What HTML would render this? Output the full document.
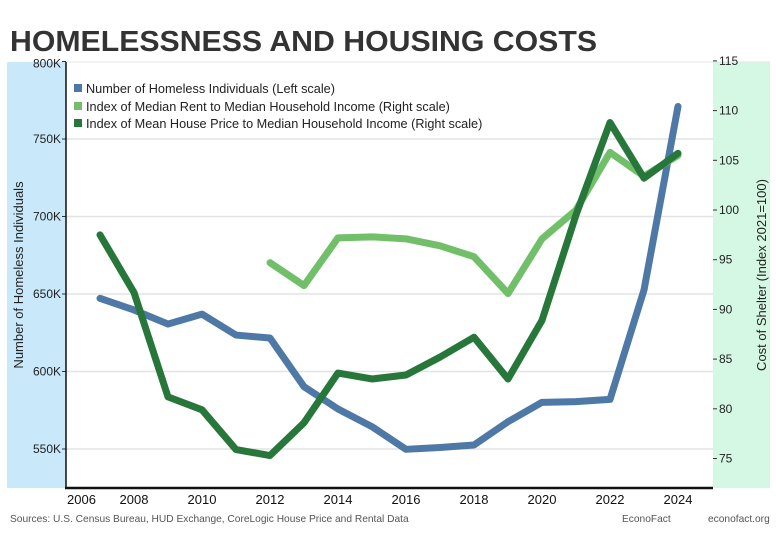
<!DOCTYPE html>
<html><head><meta charset="utf-8"><style>
html,body{margin:0;padding:0;background:#fff;}
svg{display:block;font-family:"Liberation Sans",Arial,sans-serif;}
</style></head><body>
<svg id="c" width="776" height="540" viewBox="0 0 776 540">
<text x="10" y="51" font-size="29" font-weight="bold" fill="#333" textLength="587" lengthAdjust="spacingAndGlyphs">HOMELESSNESS AND HOUSING COSTS</text>
<rect x="7" y="62" width="59" height="426" fill="#c9e9fb"/>
<rect x="713" y="62" width="57" height="426" fill="#d4f8e3"/>
<line x1="66" y1="62" x2="770" y2="62" stroke="#e6e6e6"/>
<g id="grid"></g>
<g id="series"></g>
<g id="axes"></g>
<text transform="translate(23,275) rotate(-90)" text-anchor="middle" font-size="13" fill="#222">Number of Homeless Individuals</text>
<text transform="translate(766,275) rotate(-90)" text-anchor="middle" font-size="13" fill="#222">Cost of Shelter (Index 2021=100)</text>
<g font-size="12.7" fill="#222">
<rect x="74" y="84" width="8" height="8" fill="#4e79a7"/>
<text x="86" y="93">Number of Homeless Individuals (Left scale)</text>
<rect x="74" y="102" width="8" height="8" fill="#72bf6a"/>
<text x="86" y="111">Index of Median Rent to Median Household Income (Right scale)</text>
<rect x="74" y="119" width="8" height="8" fill="#27773b"/>
<text x="86" y="128">Index of Mean House Price to Median Household Income (Right scale)</text>
</g>
<text x="10" y="522" font-size="10.2" fill="#555">Sources: U.S. Census Bureau, HUD Exchange, CoreLogic House Price and Rental Data</text>
<text x="622" y="522" font-size="10.2" fill="#555">EconoFact</text>
<text x="708" y="522" font-size="10.2" fill="#555">econofact.org</text>
</svg>
<script>
const years=[2007,2008,2009,2010,2011,2012,2013,2014,2015,2016,2017,2018,2019,2020,2021,2022,2023,2024];
const homeless=[647.2,639.7,630.6,637,623.5,621.6,590.2,575.8,564.4,549.8,551,552.6,567.6,580.1,580.6,582,652.6,771];
const rentYears=[2012,2013,2014,2015,2016,2017,2018,2019,2020,2021,2022,2023,2024];
const rent=[94.7,92.4,97.2,97.3,97.1,96.4,95.3,91.6,97.1,100,105.8,103.4,105.5];
const housePrice=[97.5,91.7,81.2,79.9,75.9,75.3,78.6,83.6,83.0,83.4,85.2,87.2,83.0,88.9,99.5,108.8,103.2,105.7];
const leftTicks=[550,600,650,700,750,800];
const rightTicks=[75,80,85,90,95,100,105,110,115];
const xTicks=[2006,2008,2010,2012,2014,2016,2018,2020,2022,2024];

const NS="http://www.w3.org/2000/svg";
const X=y=>66+(y-2006)*34.0;
const YL=v=>294-(v-650)*1.55;
const YR=v=>210-(v-100)*9.94;
function mk(tag,attrs,parent){const e=document.createElementNS(NS,tag);for(const k in attrs)e.setAttribute(k,attrs[k]);parent.appendChild(e);return e;}
const grid=document.getElementById('grid'),axes=document.getElementById('axes'),ser=document.getElementById('series');
leftTicks.forEach(t=>{
  const y=YL(t);
  if(t<800){const g=mk('line',{x1:66,x2:713,y1:y,y2:y,stroke:'#e3e3e3','stroke-width':1.5},grid);
  
  }
  const tk=mk('line',{x1:62,x2:66,y1:y,y2:y,stroke:'#333'},axes);
  
  
  const tx=mk('text',{x:61,y:(t===800?y+6:y+4),'text-anchor':'end','font-size':12,fill:'#222'},axes);
  tx.textContent=t+'K';
  
  
});
rightTicks.forEach(t=>{
  const y=YR(t);
  const tk=mk('line',{x1:713,x2:717,y1:y,y2:y,stroke:'#333'},axes);
  
  
  const tx=mk('text',{x:719,y:y+4,'font-size':12,fill:'#222'},axes);
  tx.textContent=t;
  
  
});
xTicks.forEach(t=>{
  const x=X(t);
  const tx=mk('text',{x:t===2006?67:x,y:504,'text-anchor':t===2006?'start':'middle','font-size':13,fill:'#111'},axes);
  tx.textContent=t;
  
  
});
const ya=mk('line',{x1:66,x2:66,y1:62,y2:488,stroke:'#111','stroke-width':1.5},axes);


const xa=mk('line',{x1:65,x2:713,y1:488,y2:488,stroke:'#111','stroke-width':2.5},axes);


function line(xs,vs,yf,color,name){
  const p=mk('polyline',{points:xs.map((y,i)=>X(y)+','+yf(vs[i])).join(' '),fill:'none',stroke:color,'stroke-width':7,'stroke-linejoin':'round','stroke-linecap':'round'},ser);
  
  
}
line(years,homeless,YL,'#4e79a7','homeless-line');
line(rentYears,rent,YR,'#72bf6a','rent-index-line');
line(years,housePrice,YR,'#27773b','house-price-index-line');
</script>
</body></html>
